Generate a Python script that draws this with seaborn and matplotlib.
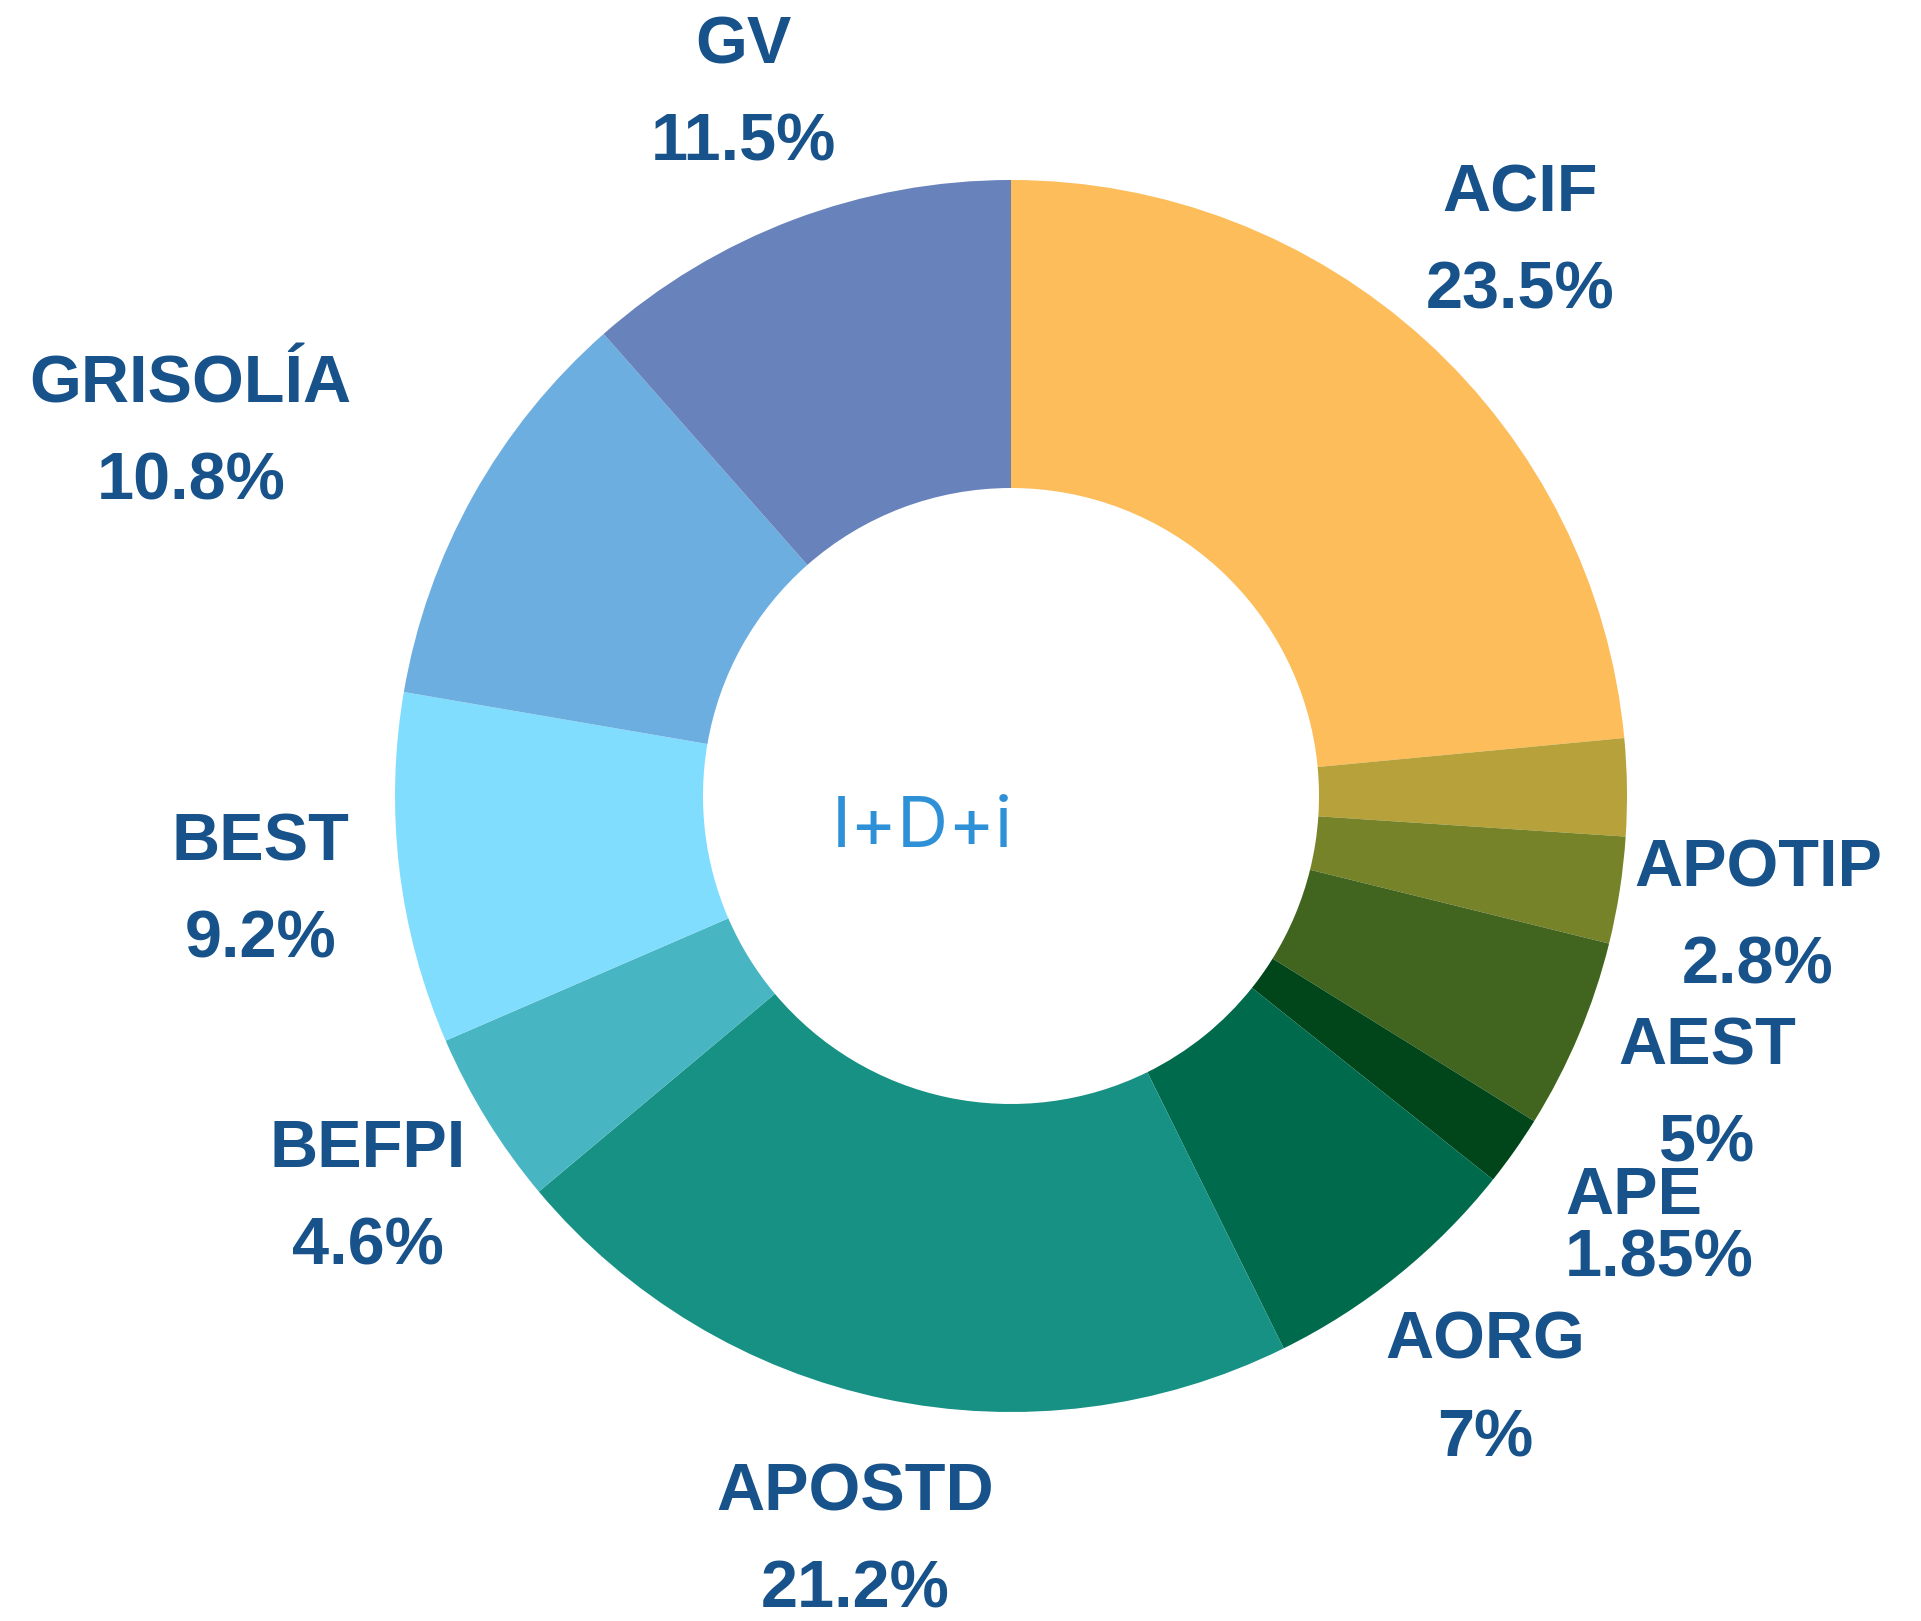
import numpy as np
import matplotlib
matplotlib.use("Agg")
import matplotlib.pyplot as plt
import seaborn as sns

# data (clockwise from 12 o'clock)
names = ["ACIF", "", "APOTIP", "AEST", "APE", "AORG", "APOSTD",
         "BEFPI", "BEST", "GRISOLÍA", "GV"]
shares = [23.5, 2.55, 2.8, 5, 1.85, 7, 21.2, 4.6, 9.2, 10.8, 11.5]
colors = ["#FDBD5B", "#B7A13A", "#778328", "#41641E", "#00461A", "#006A4C",
          "#179184", "#47B6C2", "#81DDFD", "#6DAEE0", "#6882BC"]
center_text = "I+D+i"

sns.set_theme(style="white")
plt.rcParams["font.family"] = ["Liberation Sans", "DejaVu Sans"]

label_color = "#17528A"
W, H = 1921, 1621
cx, cy, R = 1011, 796, 616  # pixel geometry of the ring

fig = plt.figure(figsize=(W / 100, H / 100), dpi=100)
ax = fig.add_axes([0, 0, 1, 1])

palette = sns.color_palette(colors)
ax.pie(shares, colors=palette, startangle=90, counterclock=False, radius=1,
       wedgeprops=dict(width=0.5, edgecolor="none", linewidth=0))
ax.set_xlim(-cx / R, (W - cx) / R)
ax.set_ylim(-(H - cy) / R, cy / R)
ax.set_aspect("equal")
ax.axis("off")

# labels sit outside the ring on each slice's mid-angle
total = sum(shares)
cum = np.cumsum([0] + shares)
r_lab = 1.227
for i, (name, v) in enumerate(zip(names, shares)):
    if not name:
        continue
    mid = (cum[i] + cum[i + 1]) / 2 / total * 2 * np.pi
    x, y = r_lab * np.sin(mid), r_lab * np.cos(mid) - 0.01
    ls, ma = 1.74, "center"
    if name == "GRISOLÍA":
        x -= 0.26
    if name == "APE":
        x += 0.05
        y += 0.015
        ls, ma = 1.0, "left"
    ax.text(x, y, f"{name}\n{v:g}%", ha="center", va="center", ma=ma,
            linespacing=ls, fontsize=48, fontweight="bold", color=label_color)

ax.text(0.003, 0.0, center_text, ha="right", va="top", fontsize=51,
        color="#2E90D7", family=["Inter", "DejaVu Sans"])

fig.savefig("out.png", dpi=100, facecolor="white")
